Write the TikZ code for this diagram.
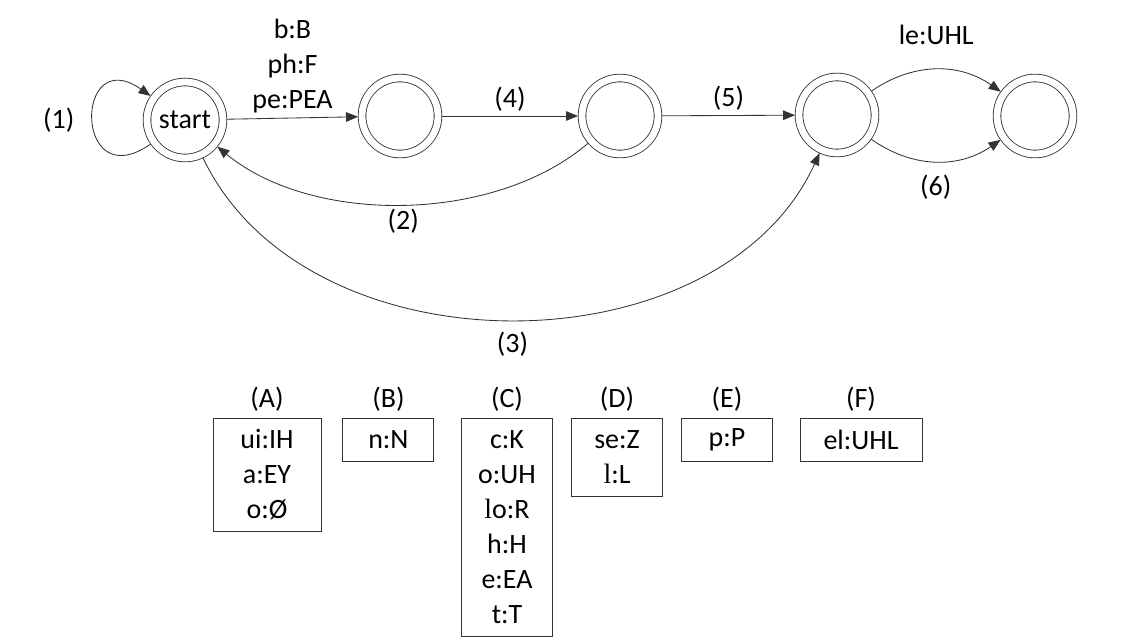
\documentclass[tikz,border=0pt]{standalone}
\usepackage{fontspec}
\setmainfont{Carlito}
\newfontfamily\serifl{Liberation Serif}
\usetikzlibrary{positioning, arrows.meta}

\begin{document}
\begin{tikzpicture}[>={Triangle[length=0.3cm,width=0.24cm]}, font=\fontsize{19.9}{24.9}\selectfont,
                    inner sep=3pt, line width=0.6pt, draw=black!80]
          \useasboundingbox (0,0) rectangle (28.3,-16);
          \begin{scope}[every node/.style={circle,draw,double,double distance=0.17cm,minimum size=1.9cm,inner sep=0pt,outer sep=0.1cm}]
            \node (s0) at (4.625, -3.0) {start};
            \node (s1) at (10.0, -2.9) {};
            \node (s2) at (15.5, -2.9) {};
            \node (s3) at (20.925, -2.875) {};
            \node (s4) at (25.875, -2.9) {};
          \end{scope}
          \path[->] (s0) edge [out=215, in=145, looseness=5] node [left=0.35cm] {(1)} (s0);
          \path[->] (s0) edge node [above, align=center] {b:B\\ph:F\\pe:PEA} (s1);
          \path[->] (s1) edge node [above] {(4)} (s2);
          \path[->] (s2) edge node [above] {(5)} (s3);
          \path[->] (s2) edge [bend left=40, looseness=0.85] node [below] {(2)} (s0);
          \path[->] (s0) edge [bend right=65] node [below=0.2cm] {(3)} (s3);
          \begin{scope}[->]
            \path (s3) edge [bend left=35] node [above=0.5cm] {le:UHL} (s4);
            \path (s3) edge [bend right=35] node [below=0.22cm] {(6)} (s4);
          \end{scope}
          \begin{scope}[every node/.style={draw,anchor=north,align=center,minimum width=2.275cm}]
            \node (bA) [minimum width=2.7cm, minimum height=2.825cm] at (6.675, -10.45) {ui:IH\\a:EY\\o:Ø};
            \node (bB) [minimum height=1.075cm] at (9.71, -10.45) {n:N};
            \node (bC) [minimum height=5.45cm] at (12.675, -10.45) {c:K\\o:UH\\{\serifl l}o:R\\h:H\\e:EA\\t:T};
            \node (bD) [minimum height=1.95cm] at (15.425, -10.45) {se:Z\\{\serifl l}:L};
            \node (bE) [minimum height=1.075cm] at (18.175, -10.45) {p:P};
            \node (bF) [minimum width=3.05cm, minimum height=1.075cm] at (21.525, -10.45) {el:UHL};
          \end{scope}
          \node (nA) [above=0.05cm of bA] {(A)};
          \node (nB) [above=0.05cm of bB] {(B)};
          \node (nC) [above=0.05cm of bC] {(C)};
          \node (nD) [above=0.05cm of bD] {(D)};
          \node (nE) [above=0.05cm of bE] {(E)};
          \node (nF) [above=0.05cm of bF] {(F)};
        \end{tikzpicture}
\end{document}
